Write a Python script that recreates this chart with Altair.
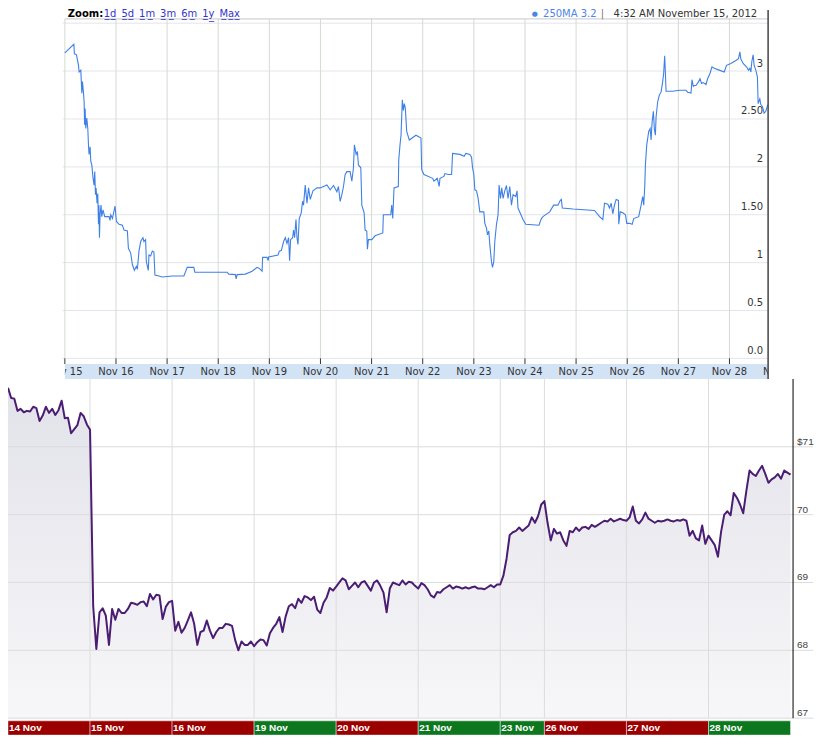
import altair as alt
import pandas as pd

# ---------------- top panel: 250MA (x = day of November 2012) ----------------
ma_day = [15.000, 15.176, 15.187, 15.228, 15.267, 15.279, 15.312, 15.332, 15.345, 15.365,
          15.377, 15.386, 15.396, 15.410, 15.429, 15.449, 15.462, 15.474, 15.494, 15.507,
          15.527, 15.552, 15.572, 15.585, 15.599, 15.611, 15.630, 15.644, 15.658, 15.667,
          15.677, 15.689, 15.708, 15.722, 15.747, 15.780, 15.864, 15.884, 15.898, 15.931,
          15.981, 16.009, 16.060, 16.126, 16.157, 16.223, 16.243, 16.288, 16.321, 16.360,
          16.399, 16.419, 16.450, 16.483, 16.528, 16.547, 16.580, 16.594, 16.633, 16.645,
          16.678, 16.711, 16.742, 16.762, 16.840, 16.906, 17.101, 17.328, 17.394, 17.523,
          17.542, 18.175, 18.206, 18.337, 18.350, 18.370, 18.532, 18.662, 18.760, 18.805,
          18.858, 18.869, 18.955, 18.975, 18.986, 19.170, 19.195, 19.234, 19.279, 19.312,
          19.345, 19.377, 19.396, 19.416, 19.455, 19.474, 19.494, 19.521, 19.541, 19.560,
          19.585, 19.624, 19.650, 19.669, 19.702, 19.736, 19.767, 19.800, 19.853, 19.931,
          19.995, 20.126, 20.190, 20.255, 20.321, 20.352, 20.385, 20.419, 20.450, 20.483,
          20.516, 20.580, 20.614, 20.645, 20.664, 20.698, 20.723, 20.742, 20.789, 20.809,
          20.854, 20.873, 20.906, 20.918, 20.938, 21.004, 21.068, 21.219, 21.230, 21.375,
          21.394, 21.414, 21.439, 21.523, 21.531, 21.556, 21.576, 21.601, 21.621, 21.640,
          21.660, 21.687, 21.738, 21.868, 21.966, 21.980, 22.024, 22.194, 22.220, 22.284,
          22.323, 22.337, 22.415, 22.434, 22.499, 22.565, 22.584, 22.727, 22.811, 22.844,
          22.922, 22.955, 22.975, 23.000, 23.020, 23.053, 23.084, 23.117, 23.195, 23.215,
          23.248, 23.267, 23.293, 23.312, 23.345, 23.365, 23.390, 23.410, 23.443, 23.474,
          23.494, 23.521, 23.546, 23.572, 23.605, 23.638, 23.669, 23.702, 23.736, 23.767,
          23.820, 23.845, 23.864, 23.962, 24.015, 24.274, 24.321, 24.352, 24.483, 24.561,
          24.645, 24.692, 24.711, 24.731, 24.938, 25.361, 25.459, 25.523, 25.556, 25.621,
          25.654, 25.687, 25.718, 25.751, 25.784, 25.829, 25.835, 25.862, 25.913, 25.966,
          25.991, 26.044, 26.097, 26.128, 26.225, 26.272, 26.303, 26.323, 26.343, 26.356,
          26.382, 26.421, 26.448, 26.467, 26.487, 26.512, 26.532, 26.551, 26.565, 26.596,
          26.629, 26.662, 26.694, 26.713, 26.733, 26.746, 26.760, 26.889, 27.020, 27.150,
          27.182, 27.248, 27.267, 27.293, 27.312, 27.345, 27.396, 27.423, 27.455, 27.488,
          27.541, 27.572, 27.619, 27.658, 27.702, 27.800, 27.898, 27.942, 28.028, 28.126,
          28.177, 28.204, 28.223, 28.268, 28.333, 28.372, 28.399, 28.419, 28.438, 28.463,
          28.483, 28.516, 28.547, 28.561, 28.594, 28.614, 28.645, 28.678, 28.711, 28.750]
ma_val = [3.19, 3.28, 3.18, 3.17, 3.06, 2.99, 3.01, 2.77, 2.89, 2.77,
          2.68, 2.44, 2.61, 2.40, 2.51, 2.40, 2.23, 2.13, 2.21, 2.06,
          2.02, 1.88, 1.81, 1.95, 1.71, 1.78, 1.62, 1.72, 1.40, 1.60,
          1.26, 1.50, 1.60, 1.48, 1.55, 1.48, 1.48, 1.44, 1.50, 1.46,
          1.59, 1.43, 1.40, 1.39, 1.34, 1.33, 1.15, 1.10, 0.98, 0.92,
          0.96, 0.93, 1.12, 1.22, 1.26, 1.22, 1.24, 1.01, 0.92, 1.08,
          1.07, 1.12, 1.11, 0.87, 0.86, 0.85, 0.86, 0.86, 0.95, 0.95,
          0.90, 0.90, 0.88, 0.875, 0.83, 0.875, 0.88, 0.91, 0.95, 0.94,
          0.91, 1.055, 1.055, 1.02, 1.06, 1.08, 1.12, 1.125, 1.22, 1.26,
          1.20, 1.26, 1.02, 1.24, 1.26, 1.34, 1.26, 1.45, 1.26, 1.19,
          1.46, 1.52, 1.64, 1.60, 1.81, 1.62, 1.78, 1.66, 1.75, 1.78,
          1.78, 1.81, 1.76, 1.805, 1.74, 1.795, 1.64, 1.71, 1.795, 1.92,
          1.95, 1.95, 1.85, 1.99, 2.23, 2.13, 2.16, 2.02, 1.99, 1.60,
          1.52, 1.34, 1.33, 1.14, 1.24, 1.24, 1.28, 1.31, 1.50, 1.50,
          1.60, 1.46, 1.78, 1.795, 2.07, 2.23, 2.33, 2.70, 2.59, 2.66,
          2.61, 2.37, 2.28, 2.33, 2.30, 1.97, 1.92, 1.88, 1.85, 1.88,
          1.795, 1.88, 1.90, 1.93, 1.92, 1.92, 2.14, 2.13, 2.11, 2.14,
          2.13, 2.10, 1.99, 1.92, 1.76, 1.75, 1.67, 1.53, 1.53, 1.41,
          1.36, 1.29, 1.33, 1.19, 1.01, 0.95, 1.01, 1.22, 1.40, 1.50,
          1.81, 1.67, 1.78, 1.67, 1.75, 1.805, 1.67, 1.795, 1.60, 1.71,
          1.69, 1.75, 1.57, 1.45, 1.40, 1.39, 1.46, 1.48, 1.53, 1.60,
          1.60, 1.65, 1.66, 1.57, 1.56, 1.545, 1.48, 1.45, 1.62, 1.61,
          1.57, 1.62, 1.51, 1.60, 1.66, 1.65, 1.40, 1.53, 1.52, 1.50,
          1.41, 1.41, 1.40, 1.46, 1.48, 1.60, 1.69, 1.60, 1.795, 2.02,
          2.23, 2.37, 2.40, 2.28, 2.47, 2.58, 2.39, 2.33, 2.52, 2.68,
          2.75, 2.78, 2.89, 2.975, 3.16, 2.99, 2.79, 2.79, 2.80, 2.80,
          2.78, 2.77, 2.91, 2.84, 2.85, 2.85, 2.89, 2.92, 2.87, 2.88,
          2.86, 2.92, 2.975, 3.045, 3.03, 3.01, 2.99, 3.06, 3.08, 3.11,
          3.13, 3.20, 3.125, 3.08, 3.045, 3.01, 3.03, 2.99, 3.10, 3.17,
          3.06, 3.01, 2.94, 2.66, 2.71, 2.65, 2.63, 2.56, 2.58, 2.65]
ma_ticks = [0.0, 0.5, 1.0, 1.5, 2.0, 2.5, 3.0]
ma_tick_labels = ["0.0", "0.5", "1", "1.50", "2", "2.50", "3"]
ma_grid = [0.0, 0.5, 1.0, 1.5, 2.0, 2.5, 3.0, 3.5]
ma_days = list(range(15, 29))
ma_day_labels = ["Nov %d" % d for d in range(15, 30)]
zoom_words = ["1d", "5d", "1m", "3m", "6m", "1y", "Max"]
legend_name = "250MA 3.2"
legend_time = "4:32 AM November 15, 2012"

# ---------------- bottom panel: share price, 15-minute points ----------------
sessions = ["14 Nov", "15 Nov", "16 Nov", "19 Nov", "20 Nov",
            "21 Nov", "23 Nov", "26 Nov", "27 Nov", "28 Nov"]
session_len = [6.5, 6.5, 6.5, 6.5, 6.5, 6.5, 3.5, 6.5, 6.5, 6.5]   # trading hours
session_dir = ["down", "down", "down", "up", "down", "up", "up", "down", "down", "up"]
p_14 = [71.87, 71.72, 71.71, 71.53, 71.56, 71.51, 71.53, 71.52, 71.59, 71.57,
        71.38, 71.46, 71.59, 71.50, 71.56, 71.47, 71.54, 71.68, 71.42, 71.43,
        71.20, 71.26, 71.32, 71.50, 71.45, 71.33]
p_15 = [71.25, 68.65, 68.02, 68.56, 68.62, 68.51, 68.08, 68.61, 68.45, 68.61,
        68.55, 68.55, 68.61, 68.70, 68.69, 68.67, 68.71, 68.72, 68.65, 68.83,
        68.75, 68.82, 68.81, 68.46, 68.64, 68.71]
p_16 = [68.73, 68.29, 68.42, 68.26, 68.33, 68.44, 68.56, 68.39, 68.08, 68.27,
        68.29, 68.44, 68.29, 68.18, 68.27, 68.33, 68.33, 68.39, 68.38, 68.36,
        68.15, 68.00, 68.13, 68.08, 68.08, 68.13]
p_19 = [68.06, 68.12, 68.16, 68.15, 68.07, 68.25, 68.33, 68.39, 68.49, 68.27,
        68.50, 68.65, 68.68, 68.62, 68.76, 68.70, 68.80, 68.78, 68.74, 68.79,
        68.60, 68.55, 68.70, 68.78, 68.92, 68.88]
p_20 = [68.94, 69.00, 69.06, 69.03, 68.90, 68.95, 69.00, 68.93, 69.00, 69.02,
        68.95, 68.88, 69.00, 69.03, 68.95, 68.85, 68.56, 68.91, 69.00, 68.98,
        68.96, 69.03, 68.97, 69.01, 69.00, 68.95]
p_21 = [68.91, 68.99, 68.96, 68.90, 68.81, 68.78, 68.86, 68.85, 68.90, 68.93,
        68.96, 68.91, 68.94, 68.93, 68.91, 68.93, 68.91, 68.93, 68.94, 68.91,
        68.91, 68.90, 68.93, 68.96, 68.93, 68.97]
p_23 = [68.97, 69.10, 69.35, 69.70, 69.74, 69.76, 69.81, 69.76, 69.80, 69.84,
        69.96, 69.88, 69.98, 70.15]
p_26 = [70.20, 69.88, 69.62, 69.79, 69.72, 69.74, 69.62, 69.54, 69.76, 69.74,
        69.81, 69.76, 69.81, 69.82, 69.79, 69.85, 69.82, 69.85, 69.88, 69.91,
        69.90, 69.94, 69.90, 69.92, 69.94, 69.92]
p_27 = [69.91, 69.96, 70.12, 69.91, 69.87, 69.93, 70.03, 69.94, 69.91, 69.88,
        69.91, 69.90, 69.91, 69.93, 69.91, 69.90, 69.92, 69.91, 69.93, 69.91,
        69.69, 69.76, 69.65, 69.62, 69.84, 69.57]
p_28 = [69.69, 69.62, 69.55, 69.38, 69.75, 70.00, 70.05, 69.99, 70.32, 70.25,
        70.15, 70.02, 70.35, 70.65, 70.60, 70.57, 70.65, 70.72, 70.60, 70.47,
        70.52, 70.55, 70.60, 70.53, 70.65, 70.62, 70.59]
session_prices = [p_14, p_15, p_16, p_19, p_20, p_21, p_23, p_26, p_27, p_28]
price_ticks = [67, 68, 69, 70, 71]
price_tick_labels = ["67", "68", "69", "70", "$71"]

# ================= one shared plot area, two independent scale sets =================
W, H = 787, 727

# ---- top panel scales (days / MA value) ----
TX = [13.888, 29.244]
TY = [-3.934, 3.639]
T_RIGHT = 28.756          # right frame of the top panel
BAND_TOP, BAND_BOT = -0.059, -0.216
FRAME_TOP = 3.545
HEAD_Y = 3.566
LABEL_Y = -0.1375
FONT_T = "DejaVu Sans"

xs = alt.Scale(domain=TX, nice=False, zero=False)
ys = alt.Scale(domain=TY, nice=False, zero=False)


def tx(f):
    return alt.X(f + ":Q", scale=xs, axis=None)


def ty(f):
    return alt.Y(f + ":Q", scale=ys, axis=None)


# link words drawn with a combining low line so they read as underlined links
zoom_links = "\u2002".join("".join(ch + "\u0332" for ch in w) for w in zoom_words)

ma_df = pd.DataFrame({"d": ma_day, "v": ma_val})
hgrid_df = pd.DataFrame({"v": ma_grid, "x0": 14.96, "x1": T_RIGHT})
vgrid_df = pd.DataFrame({"d": ma_days, "y0": 0.0, "y1": FRAME_TOP})
frame_df = pd.DataFrame({"v": [FRAME_TOP], "x0": [15.0], "x1": [T_RIGHT]})
band_df = pd.DataFrame({"x0": [15.0], "x1": [T_RIGHT], "y0": [BAND_TOP], "y1": [BAND_BOT]})
mask_df = pd.DataFrame({"x0": [TX[0], T_RIGHT], "x1": [15.0, TX[1]],
                        "y0": [BAND_TOP, BAND_TOP], "y1": [BAND_BOT, BAND_BOT]})
tick_df = pd.DataFrame({"d": ma_days, "y0": 0.0, "y1": BAND_TOP})
dlab_df = pd.DataFrame({"d": list(range(15, 30)), "t": ma_day_labels, "y": LABEL_Y})
ylab_df = pd.DataFrame({"v": ma_ticks, "t": ma_tick_labels, "x": T_RIGHT})
edge_df = pd.DataFrame({"x": [T_RIGHT], "y0": [BAND_BOT], "y1": [TY[1]]})
head_df = pd.DataFrame({"x0": [15.0], "x1": [T_RIGHT], "y": [HEAD_Y]})

top_layers = [
    alt.Chart(hgrid_df).mark_rule(color="#e4e4ee", strokeWidth=1).encode(
        x=tx("x0"), x2="x1:Q", y=ty("v")),
    alt.Chart(vgrid_df).mark_rule(color="#d3dbd3", strokeWidth=1).encode(
        x=tx("d"), y=ty("y0"), y2="y1:Q"),
    alt.Chart(frame_df).mark_rule(color="#c8c8c8", strokeWidth=1).encode(
        x=tx("x0"), x2="x1:Q", y=ty("v")),
    alt.Chart(band_df).mark_rect(color="#d3e3f6").encode(
        x=tx("x0"), x2="x1:Q", y=ty("y0"), y2="y1:Q"),
    alt.Chart(dlab_df).mark_text(font=FONT_T, fontSize=10, color="#333333",
                                 baseline="middle", align="center", clip=True).encode(
        x=tx("d"), y=ty("y"), text="t:N"),
    alt.Chart(mask_df).mark_rect(color="#ffffff").encode(
        x=tx("x0"), x2="x1:Q", y=ty("y0"), y2="y1:Q"),
    alt.Chart(tick_df).mark_rule(color="#333333", strokeWidth=1).encode(
        x=tx("d"), y=ty("y0"), y2="y1:Q"),
    alt.Chart(ylab_df).mark_text(font=FONT_T, fontSize=10, color="#333333",
                                 align="right", baseline="alphabetic", dx=-5, dy=-4.5).encode(
        x=tx("x"), y=ty("v"), text="t:N"),
    alt.Chart(ma_df).mark_line(color="#3f80e6", strokeWidth=1.1, interpolate="linear").encode(
        x=tx("d"), y=ty("v")),
    alt.Chart(head_df).mark_text(font=FONT_T, fontSize=10, fontWeight="bold", color="#000000",
                                 align="left", baseline="alphabetic", dx=3, text="Zoom:").encode(
        x=tx("x0"), y=ty("y")),
    alt.Chart(head_df).mark_text(font=FONT_T, fontSize=10, color="#3333cc",
                                 align="left", baseline="alphabetic", dx=39, text=zoom_links).encode(
        x=tx("x0"), y=ty("y")),
    alt.Chart(head_df).mark_text(font=FONT_T, fontSize=7, color="#4a86e8",
                                 align="center", baseline="alphabetic", dx=-234, dy=-1, text="\u25cf").encode(
        x=tx("x1"), y=ty("y")),
    alt.Chart(head_df).mark_text(font=FONT_T, fontSize=10, color="#4a86e8",
                                 align="right", baseline="alphabetic", dx=-172, text=legend_name).encode(
        x=tx("x1"), y=ty("y")),
    alt.Chart(head_df).mark_text(font=FONT_T, fontSize=10, color="#777777",
                                 align="center", baseline="alphabetic", dx=-166, text="|").encode(
        x=tx("x1"), y=ty("y")),
    alt.Chart(head_df).mark_text(font=FONT_T, fontSize=10, color="#333333",
                                 align="right", baseline="alphabetic", dx=-11, text=legend_time).encode(
        x=tx("x1"), y=ty("y")),
    alt.Chart(edge_df).mark_rule(color="#444444", strokeWidth=1.5).encode(
        x=tx("x"), y=ty("y0"), y2="y1:Q"),
]
top = alt.layer(*top_layers)

# ---- bottom panel scales (trading hours / price) ----
BX = [0.0, 62.2]
BY = [66.75, 77.441]
CELL_TOP, CELL_BOT = 66.96, 66.75
CELL_LABEL_Y = 66.857
GRID_END = 63.8
FONT_B = "Liberation Sans"

bxs = alt.Scale(domain=BX, nice=False, zero=False)
bys = alt.Scale(domain=BY, nice=False, zero=False)


def bx(f):
    return alt.X(f + ":Q", scale=bxs, axis=None)


def by(f):
    return alt.Y(f + ":Q", scale=bys, axis=None)


rows = []
cells = []
start = 0.0
for name, length, direction, prices in zip(sessions, session_len, session_dir, session_prices):
    for k, p in enumerate(prices):
        rows.append({"h": start + 0.25 * k, "p": p, "base": 67.0})
    cells.append({"s": start, "e": start + length, "name": name, "dir": direction,
                  "y0": CELL_TOP, "y1": CELL_BOT, "ly": CELL_LABEL_Y})
    start += length
price_df = pd.DataFrame(rows)
cell_df = pd.DataFrame(cells)
bvgrid_df = pd.DataFrame({"h": cell_df["s"][1:].tolist(), "y0": 67.0, "y1": 72.0})
bhgrid_df = pd.DataFrame({"v": price_ticks, "x0": 0.0, "x1": GRID_END})
blab_df = pd.DataFrame({"v": price_ticks, "t": price_tick_labels, "x": BX[1]})
baxis_df = pd.DataFrame({"x": [BX[1]], "y0": [67.0], "y1": [72.0]})

fill = alt.Gradient(
    gradient="linear",
    stops=[alt.GradientStop(color="#e2e2ea", offset=0),
           alt.GradientStop(color="#f7f7f9", offset=1)],
    x1=0, x2=0, y1=0, y2=1)

bottom_layers = [
    alt.Chart(price_df).mark_area(color=fill, line=False).encode(
        x=bx("h"), y=by("p"), y2="base:Q"),
    alt.Chart(bhgrid_df).mark_rule(color="#dcdcdc", strokeWidth=1).encode(
        x=bx("x0"), x2="x1:Q", y=by("v")),
    alt.Chart(bvgrid_df).mark_rule(color="#dcdcdc", strokeWidth=1).encode(
        x=bx("h"), y=by("y0"), y2="y1:Q"),
    alt.Chart(price_df).mark_line(color="#4b1d72", strokeWidth=2, strokeJoin="round").encode(
        x=bx("h"), y=by("p")),
    alt.Chart(baxis_df).mark_rule(color="#000000", strokeWidth=1).encode(
        x=bx("x"), y=by("y0"), y2="y1:Q"),
    alt.Chart(blab_df).mark_text(font=FONT_B, fontSize=10, color="#444444",
                                 align="left", baseline="alphabetic", dx=4, dy=-2).encode(
        x=bx("x"), y=by("v"), text="t:N"),
    alt.Chart(cell_df).mark_rect(stroke="#ffffff", strokeOpacity=0.45, strokeWidth=1).encode(
        x=bx("s"), x2="e:Q", y=by("y0"), y2="y1:Q",
        color=alt.Color("dir:N", scale=alt.Scale(domain=["down", "up"],
                                                 range=["#9a0000", "#0d771f"]), legend=None)),
    alt.Chart(cell_df).mark_text(font=FONT_B, fontSize=10, fontWeight="bold", color="#ffffff",
                                 align="left", baseline="middle", dx=1).encode(
        x=bx("s"), y=by("ly"), text="name:N"),
]
bottom = alt.layer(*bottom_layers)

chart = alt.layer(top, bottom).resolve_scale(
    x="independent", y="independent", color="independent"
).properties(
    width=W, height=H,
    padding={"left": -1, "top": 0, "right": 0, "bottom": 0},
    background="#ffffff",
).configure_view(stroke=None)

chart.save("out.html", embed_options={"renderer": "svg", "actions": False})
